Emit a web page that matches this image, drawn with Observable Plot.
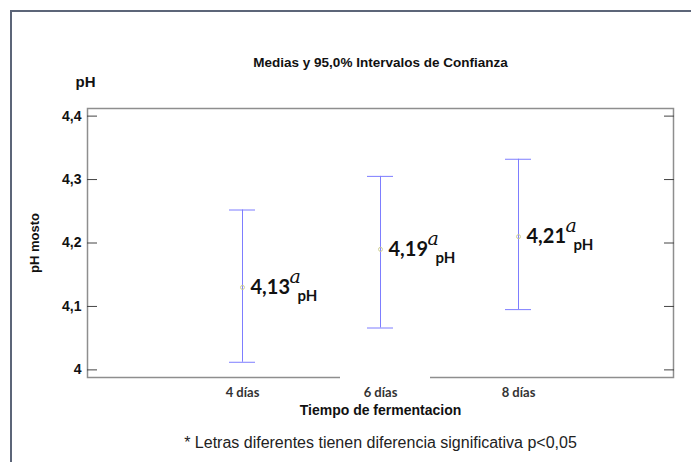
<!DOCTYPE html>
<html>
<head>
<meta charset="utf-8">
<script src="https://cdn.jsdelivr.net/npm/d3@7"></script>
<script src="https://cdn.jsdelivr.net/npm/@observablehq/plot@0.6"></script>
<style>
  html, body { margin: 0; padding: 0; background: #fff; }
  #wrap { position: relative; width: 691px; height: 462px; overflow: hidden; }
  #wrap svg { position: absolute; left: 0; top: 0; }
  /* page border around the figure */
  .border { position: absolute; left: 10px; top: 10px; right: -10px; bottom: -10px;
            border-top: 2px solid #5c6578; border-left: 2px solid #5c6578; }
  /* white label box that interrupts the lower frame line behind "6 días" */
  .labelbox { position: absolute; left: 340px; top: 372px; width: 90px; height: 12px; background: #fff; }
</style>
</head>
<body>
<div id="wrap"></div>
<script>
// Fermentation time groups
const categories = ["4 días", "6 días", "8 días"];
// Mean pH of the must and 95% confidence limits
const means = [4.13, 4.19, 4.21];
const lower = [4.012, 4.066, 4.095];
const upper = [4.252, 4.305, 4.332];
// Significance letters (Tukey grouping)
const letters = ["a", "a", "a"];
// Y axis ticks
const yTicks = [4, 4.1, 4.2, 4.3, 4.4];

const rows = categories.map((c, i) => ({
  dias: c, media: means[i], inf: lower[i], sup: upper[i], letra: letters[i]
}));

const comma = d => String(d).replace(".", ",");
const barColor = "#7d7dff";
const sans = "Liberation Sans, Arial, sans-serif";
const calib = "Lato, 'Open Sans', sans-serif";

const chart = Plot.plot({
  width: 691,
  height: 462,
  marginLeft: 87,
  marginRight: 18,
  marginTop: 108,
  marginBottom: 85,
  style: { background: "transparent", fontFamily: sans, color: "#111" },
  // narrow bands: the band width is the width of the interval caps
  x: { type: "band", domain: categories, paddingInner: 0.812, paddingOuter: 1.0245, axis: null },
  y: { domain: [3.988, 4.412], axis: null },
  marks: [
    Plot.frame({ stroke: "#8e8e8e", strokeWidth: 1.5 }),
    // left axis: inward ticks with comma-decimal labels
    Plot.axisY({
      anchor: "left", ticks: yTicks, tickSize: -10, tickPadding: 16,
      tickFormat: comma, label: null, stroke: "#444", fill: "#111",
      fontSize: 14, fontWeight: "bold", fontFamily: sans
    }),
    // right axis: inward ticks only
    Plot.axisY({
      anchor: "right", ticks: yTicks, tickSize: -10, tickFormat: () => "",
      label: null, stroke: "#444"
    }),
    // category labels
    Plot.axisX({
      anchor: "bottom", tickSize: 0, tickPadding: 10, label: null,
      fill: "#333", fontSize: 13, fontWeight: "bold", fontFamily: calib
    }),
    // confidence intervals
    Plot.ruleX(rows, { x: "dias", y1: "inf", y2: "sup", stroke: barColor, strokeWidth: 1 }),
    Plot.tickY(rows, { x: "dias", y: "sup", stroke: barColor }),
    Plot.tickY(rows, { x: "dias", y: "inf", stroke: barColor }),
    // means
    Plot.dot(rows, { x: "dias", y: "media", r: 2, stroke: "#cfcf94", fill: "none", strokeWidth: 1 }),
    // mean value labels with letter and "pH" subscript
    Plot.text(rows, {
      x: "dias", y: "media", text: d => d.media.toFixed(2).replace(".", ","),
      textAnchor: "start", lineAnchor: "middle", dx: 8,
      fontFamily: calib, fontWeight: "bold", fontSize: 20, fill: "#111"
    }),
    Plot.text(rows, {
      x: "dias", y: "media", text: "letra",
      textAnchor: "start", lineAnchor: "middle", dx: 47, dy: -10.5,
      fontFamily: "DejaVu Serif, serif", fontStyle: "italic", fontSize: 19, fill: "#111"
    }),
    Plot.text(rows, {
      x: "dias", y: "media", text: () => "pH",
      textAnchor: "start", lineAnchor: "middle", dx: 55, dy: 9,
      fontFamily: calib, fontWeight: "bold", fontSize: 15, fill: "#111"
    }),
    // titles
    Plot.text(["Medias y 95,0% Intervalos de Confianza"], {
      frameAnchor: "top", lineAnchor: "middle", dy: -46,
      fontWeight: "bold", fontSize: 13.5, fontFamily: sans, fill: "#111"
    }),
    Plot.text(["pH"], {
      frameAnchor: "top-left", textAnchor: "middle", lineAnchor: "middle", dx: -2, dy: -26,
      fontWeight: "bold", fontSize: 15, fontFamily: sans, fill: "#111"
    }),
    Plot.text(["pH mosto"], {
      frameAnchor: "left", textAnchor: "middle", lineAnchor: "middle", rotate: -90, dx: -53,
      fontWeight: "bold", fontSize: 13, fontFamily: sans, fill: "#111"
    }),
    Plot.text(["Tiempo de fermentacion"], {
      frameAnchor: "bottom", lineAnchor: "middle", dy: 33,
      fontWeight: "bold", fontSize: 14, fontFamily: sans, fill: "#111"
    }),
    Plot.text(["* Letras diferentes tienen diferencia significativa p<0,05"], {
      frameAnchor: "bottom", lineAnchor: "middle", dy: 65,
      fontSize: 16, fontFamily: sans, fill: "#222"
    })
  ]
});

const wrap = document.getElementById("wrap");
wrap.appendChild(chart);
const box = document.createElement("div");
box.className = "labelbox";
wrap.appendChild(box);
const border = document.createElement("div");
border.className = "border";
wrap.appendChild(border);
</script>
</body>
</html>
